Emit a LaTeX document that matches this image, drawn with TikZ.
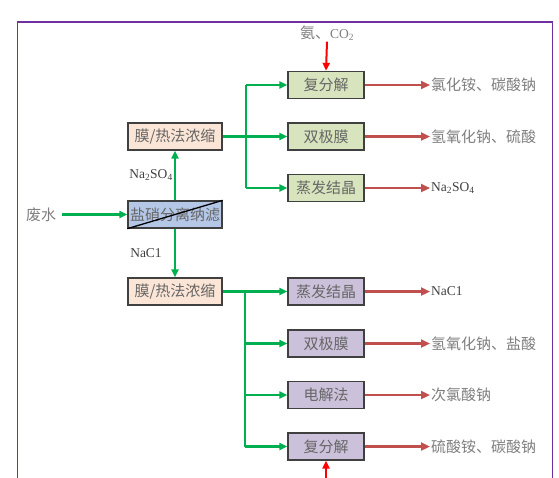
\documentclass[tikz,border=0pt]{standalone}
\usepackage{fontspec}
\setmainfont{Liberation Serif}
\newfontfamily\cjk{Noto Sans CJK SC}
\usetikzlibrary{arrows.meta}
\definecolor{gcol}{HTML}{00B050}
\definecolor{rcol}{HTML}{C0504D}
\definecolor{framecol}{HTML}{7030A0}
\definecolor{peach}{HTML}{FBE5D6}
\definecolor{bluef}{HTML}{B4C7E7}
\definecolor{greenf}{HTML}{D7E4BD}
\definecolor{purplef}{HTML}{CCC1DA}
\definecolor{txtgray}{HTML}{7F7F7F}
\definecolor{boxtxt}{HTML}{666666}
\definecolor{chem}{HTML}{404040}
\tikzset{
  box/.style={draw=black!75, line width=1.3pt, inner sep=0pt, minimum height=27pt,
    text=boxtxt, font=\cjk\fontsize{15}{17}\selectfont},
  widebox/.style={box, minimum width=94pt},
  smallbox/.style={box, minimum width=76pt},
  lbl/.style={inner sep=1pt, text=txtgray, font=\cjk\fontsize{15}{17}\selectfont},
  chemlbl/.style={inner sep=1pt, text=chem, font=\fontsize{13.5}{16}\selectfont},
  gline/.style={draw=gcol, line width=2.4pt},
  garrow/.style={gline, -{Triangle[length=8pt,width=7pt]}},
  rarrow/.style={draw=rcol, line width=2.2pt, -{Triangle[length=9pt,width=8pt]}},
  redarrow/.style={draw=red, line width=2pt, -{Triangle[length=8pt,width=7pt]}},
}
\begin{document}
\begin{tikzpicture}[x=1pt,y=-1pt]
\useasboundingbox (0,0) rectangle (559,477);
\fill[white] (0,0) rectangle (559,477);
\draw[framecol, line width=1.2pt] (17.5,520) -- (17.5,22) -- (552.5,22) -- (552.5,520);

% left column
\node[widebox, fill=peach] (mt) at (175,136.5) {膜/热法浓缩};
\node[widebox, fill=bluef] (nf) at (175,214.5) {盐硝分离纳滤};
\draw[black, line width=1.3pt] (nf.south west) -- (nf.north east);
\node[widebox, fill=peach] (mb) at (175,291.5) {膜/热法浓缩};

\node[lbl] (fs) at (41,214.5) {废水};
\draw[garrow, shorten <=5pt] (fs.east) -- (nf.west);
\node[chemlbl] (lna2) at (151,175) {Na\textsubscript{2}SO\textsubscript{4}};
\node[chemlbl] (lnacl) at (146,253) {NaC1};
\draw[garrow] (nf.north) -- (mt.south);
\draw[garrow] (nf.south) -- (mb.north);

% top right group
\node[smallbox, fill=greenf] (g1) at (326,85) {复分解};
\node[smallbox, fill=greenf] (g2) at (326,136.5) {双极膜};
\node[smallbox, fill=greenf] (g3) at (326,188) {蒸发结晶};
\coordinate (jt) at (246,136.5);
\draw[gline] (mt.east) -- (jt);
\draw[gline] (jt |- g1) -- (jt |- g3);
\draw[garrow] (jt |- g1) -- (g1.west);
\draw[garrow] (jt) -- (g2.west);
\draw[garrow] (jt |- g3) -- (g3.west);

\node[lbl, anchor=west] (o1) at (430,85) {氯化铵、碳酸钠};
\node[lbl, anchor=west] (o2) at (430,136.5) {氢氧化钠、硫酸};
\node[chemlbl, anchor=west] (o3) at (430,188) {Na\textsubscript{2}SO\textsubscript{4}};
\draw[rarrow] (g1.east) -- (o1.west);
\draw[rarrow] (g2.east) -- (o2.west);
\draw[rarrow] (g3.east) -- (o3.west);

\node[lbl] (nh3) at (327,33) {氨、{\fontspec{Liberation Serif}\fontsize{13.5}{16}\selectfont CO\textsubscript{2}}};
\draw[redarrow] (nh3.south) -- (g1.north);

% bottom right group
\node[smallbox, fill=purplef] (p1) at (326,291.5) {蒸发结晶};
\node[smallbox, fill=purplef] (p2) at (326,343.5) {双极膜};
\node[smallbox, fill=purplef] (p3) at (326,395) {电解法};
\node[smallbox, fill=purplef] (p4) at (326,446.5) {复分解};
\coordinate (jb) at (245,291.5);
\draw[gline] (mb.east) -- (jb);
\draw[gline] (jb) -- (jb |- p4);
\draw[garrow] (jb) -- (p1.west);
\draw[garrow] (jb |- p2) -- (p2.west);
\draw[garrow] (jb |- p3) -- (p3.west);
\draw[garrow] (jb |- p4) -- (p4.west);

\node[chemlbl, anchor=west] (q1) at (430,291.5) {NaC1};
\node[lbl, anchor=west] (q2) at (430,343.5) {氢氧化钠、盐酸};
\node[lbl, anchor=west] (q3) at (430,395) {次氯酸钠};
\node[lbl, anchor=west] (q4) at (430,446.5) {硫酸铵、碳酸钠};
\draw[rarrow] (p1.east) -- (q1.west);
\draw[rarrow] (p2.east) -- (q2.west);
\draw[rarrow] (p3.east) -- (q3.west);
\draw[rarrow] (p4.east) -- (q4.west);

\coordinate (bin) at (326,500);
\draw[redarrow] (bin) -- (p4.south);
\end{tikzpicture}
\end{document}
